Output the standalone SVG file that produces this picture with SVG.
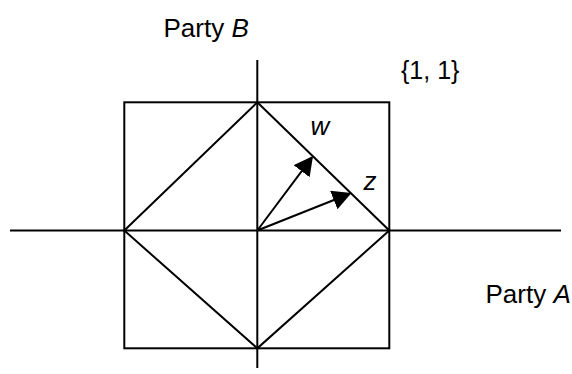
<svg xmlns="http://www.w3.org/2000/svg" width="572" height="374" viewBox="0 0 572 374">
<style>
.ln{stroke:#000;stroke-width:2;fill:none}
.t{font-family:"Liberation Sans",Arial,sans-serif;font-size:26px;fill:#000}
.i{font-style:italic}
</style>
<defs>
<marker id="ah" markerUnits="userSpaceOnUse" markerWidth="22" markerHeight="22" refX="17" refY="10" orient="auto">
<path d="M0,0 L19,10 L0,20 z" fill="#000"/>
</marker>
</defs>
<g id="axes">
<line class="ln" x1="10" y1="230.5" x2="561" y2="230.5"/>
<line class="ln" x1="257.3" y1="60" x2="257.3" y2="368"/>
</g>
<g id="square"><rect class="ln" x="124.3" y="102.3" width="265" height="246"/></g>
<g id="diamond"><polygon class="ln" points="257.3,102.3 389.3,230.5 257.3,348.3 124.3,230.5"/></g>
<g id="connectors">
<line class="ln" x1="257.3" y1="230.5" x2="311.8" y2="157.6" marker-end="url(#ah)"/>
<line class="ln" x1="257.3" y1="230.5" x2="349.6" y2="193.7" marker-end="url(#ah)"/>
</g>
<g id="labels">
<text class="t" x="163.5" y="36.5">Party <tspan class="i">B</tspan></text>
<text class="t" x="401" y="79" style="font-size:25px">{1, 1}</text>
<text class="t" x="485.5" y="303">Party <tspan class="i">A</tspan></text>
<text class="t i" x="310.5" y="135">w</text>
<text class="t i" x="363.5" y="190">z</text>
</g>
</svg>
